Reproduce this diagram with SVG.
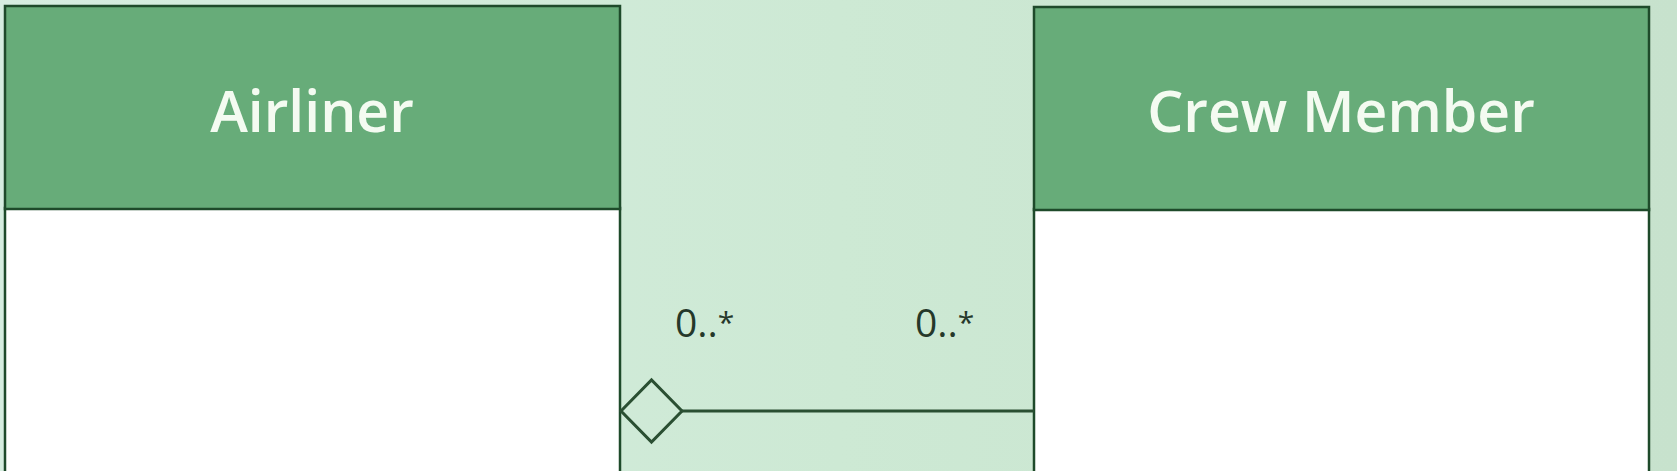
<svg xmlns="http://www.w3.org/2000/svg" width="1677" height="471" viewBox="0 0 1677 471">
<style>
.hdr{fill:#67ac79;stroke:#1e4a2a;stroke-width:2.5}
.body{fill:#ffffff;stroke:#1e4a2a;stroke-width:2.5}
.title{font-family:"Open Sans","Noto Sans",sans-serif;font-size:57px;font-weight:600;fill:#f4fbf1;text-anchor:middle}
.mult{font-family:"Open Sans","Noto Sans",sans-serif;font-size:39px;fill:#25382a}
.star{font-size:30px}
.conn{fill:none;stroke:#2a4f32;stroke-width:3}
</style>
<defs>
<linearGradient id="bg" x1="0" y1="0" x2="1" y2="0">
<stop offset="0" stop-color="#d6ede0"/>
<stop offset="0.5" stop-color="#cde9d4"/>
<stop offset="1" stop-color="#c7e2cd"/>
</linearGradient>
</defs>
<rect x="0" y="0" width="1677" height="471" fill="url(#bg)"/>
<g id="airliner">
<rect class="body" x="5" y="208" width="615" height="270"/>
<rect class="hdr" x="5" y="6" width="615" height="203"/>
<text class="title" x="312" y="132">Airliner</text>
</g>
<g id="crew-member">
<rect class="body" x="1034" y="209" width="615" height="270"/>
<rect class="hdr" x="1034" y="7" width="615" height="203"/>
<text class="title" x="1341" y="132">Crew Member</text>
</g>
<g id="connectors">
<line class="conn" x1="682" y1="411" x2="1034" y2="411"/>
<polygon class="conn" points="621,411 651.5,380 682,411 651.5,442"/>
<text class="mult" x="675" y="337">0..<tspan class="star" dy="-4">*</tspan></text>
<text class="mult" x="915" y="337">0..<tspan class="star" dy="-4">*</tspan></text>
</g>
</svg>
